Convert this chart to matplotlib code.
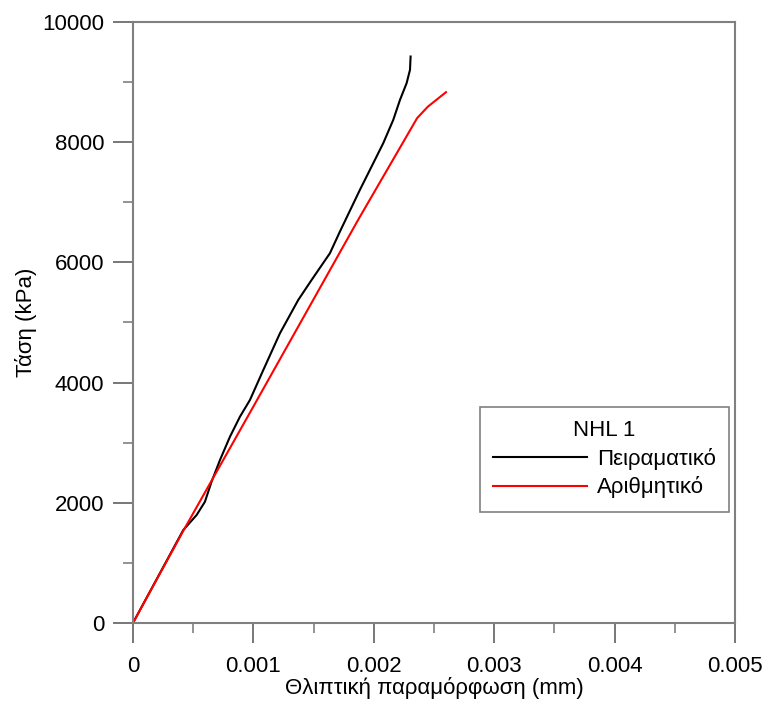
import numpy as np
import matplotlib
matplotlib.use("Agg")
import matplotlib.pyplot as plt
from matplotlib.ticker import MultipleLocator

plt.rcParams['font.family'] = ['Liberation Sans', 'DejaVu Sans']

# Datos
strain_exp = [0, 0.000418, 0.000529, 0.000598, 0.000653, 0.000723, 0.000806, 0.000889,
              0.000972, 0.001083, 0.001221, 0.001373, 0.001484, 0.001636, 0.001719,
              0.001885, 0.001996, 0.002079, 0.002162, 0.002218, 0.002273, 0.002301, 0.002306]
stress_exp = [0, 1547, 1797, 2018, 2351, 2712, 3100, 3433,
              3711, 4210, 4820, 5374, 5707, 6151, 6511,
              7205, 7649, 7982, 8369, 8702, 8980, 9201, 9423]

strain_num = [0, 0.00042, 0.001, 0.00187, 0.00236, 0.00245, 0.0026]
stress_num = [0, 1540, 3600, 6705, 8398, 8590, 8830]

legend_title = "NHL 1"
label_exp = "Πειραματικό"
label_num = "Αριθμητικό"

fig = plt.figure(figsize=(7.64, 7.04), dpi=100)
ax = fig.add_axes([0.174, 0.115, 0.788, 0.854])

ax.plot(strain_exp, stress_exp, color="black", lw=1.5, label=label_exp)
ax.plot(strain_num, stress_num, color="#ff0000", lw=1.5, label=label_num)

ax.set_xlim(0, 0.005)
ax.set_ylim(0, 10000)
ax.xaxis.set_major_locator(MultipleLocator(0.001))
ax.xaxis.set_minor_locator(MultipleLocator(0.0005))
ax.yaxis.set_major_locator(MultipleLocator(2000))
ax.yaxis.set_minor_locator(MultipleLocator(1000))
ax.set_xticks([0, 0.001, 0.002, 0.003, 0.004, 0.005])
ax.set_xticklabels(["0", "0.001", "0.002", "0.003", "0.004", "0.005"])

for s in ax.spines.values():
    s.set_color("#808080")
    s.set_linewidth(1.5)

ax.tick_params(axis="both", which="major", direction="out", length=14.5, width=1.2,
               color="#606060", labelsize=16)
ax.tick_params(axis="both", which="minor", direction="out", length=7.5, width=1.2,
               color="#808080")
ax.tick_params(axis="x", which="major", pad=9)
ax.tick_params(axis="y", which="major", pad=6)

ax.set_xlabel("Θλιπτική παραμόρφωση (mm)", fontsize=16, labelpad=0)
ax.set_ylabel("Τάση (kPa)", fontsize=16, labelpad=4)

leg = ax.legend(title=legend_title, loc="lower right", bbox_to_anchor=(0.99, 0.185),
                fontsize=16, title_fontsize=16, handlelength=4.2, fancybox=False,
                framealpha=1, borderpad=0.6, labelspacing=0.3, handletextpad=0.45,
                borderaxespad=0)
leg.get_frame().set_edgecolor("#808080")
leg.get_frame().set_linewidth(1.2)

plt.savefig("out.png", dpi=100)
